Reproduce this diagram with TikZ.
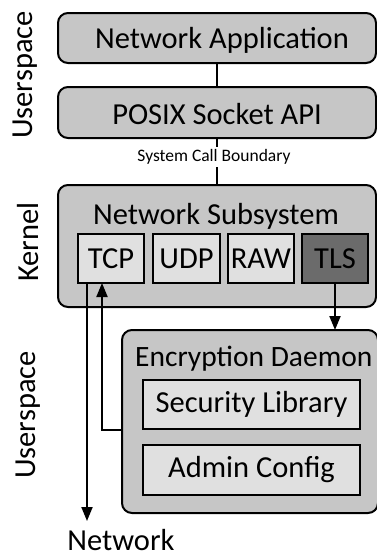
\documentclass[tikz,border=0pt]{standalone}
\usepackage{fontspec}
\setmainfont{Carlito}
\usetikzlibrary{arrows.meta}
\definecolor{layerfill}{HTML}{C6C6C6}
\definecolor{partfill}{HTML}{E0E0E0}
\definecolor{securefill}{HTML}{6B6B6B}
\begin{document}
\begin{tikzpicture}[x=1pt,y=-1pt,
  every node/.style={font=\fontsize{30.5}{34}\selectfont, inner sep=0pt},
  layer/.style={draw, line width=2pt, rounded corners=10pt, fill=layerfill},
  part/.style={draw, line width=2pt, fill=partfill},
  secure/.style={draw, line width=2pt, fill=securefill},
  link/.style={line width=2pt},
  flow/.style={line width=2pt, -{Triangle[length=14pt,width=11pt]}},
  side/.style={rotate=90}
]
\useasboundingbox (0,0) rectangle (376,558);

% userspace application stack
\draw[layer] (58,13) rectangle (376,63);
\node (app) at (222,40) {Network Application};
\draw[layer] (58,87) rectangle (376,138);
\node (posix) at (217,114) {POSIX Socket API};

% kernel network subsystem
\draw[layer] (58,185) rectangle (376,307);
\node (netsub) at (216,216) {Network Subsystem};
\node[part, minimum width=66pt, minimum height=49pt] (tcp) at (111,258.5) {TCP};
\node[part, minimum width=67pt, minimum height=49pt] (udp) at (186.5,258.5) {UDP};
\node[part, minimum width=66pt, minimum height=49pt] (raw) at (261,258.5) {RAW};
\node[secure, minimum width=66pt, minimum height=49pt] (tls) at (335,258.5) {TLS};

% userspace encryption daemon
\draw[layer] (122,330) rectangle (378,513);
\node[anchor=west, font=\fontsize{29.5}{33}\selectfont] (daemon) at (135,359) {Encryption Daemon};
\node[part, minimum width=217pt, minimum height=49pt] (seclib) at (251.5,404.5) {Security Library};
\node[part, minimum width=217pt, minimum height=50pt] (admin) at (251.5,470) {Admin Config};

% layer labels
\node[side] (lbluser) at (25,75) {Userspace};
\node[side] (lblkernel) at (28,242) {Kernel};
\node[side] (lbluser2) at (28,415) {Userspace};

% connectors
\coordinate (appbot) at (217,63);
\coordinate (posixtop) at (217,87);
\coordinate (posixbot) at (217,138);
\coordinate (nettop) at (217,185);
\draw[link] (appbot) -- (posixtop);
\draw[link] (posixbot) -- (nettop);
\node[fill=white, inner xsep=1pt, inner ysep=3pt, font=\fontsize{17.5}{19}\selectfont] (syscall) at (214,157) {System Call Boundary};

\node (net) at (121,540) {Network};
\coordinate (tcpout) at (87,283);
\coordinate (netin) at (87,521);
\draw[flow] (tcpout) -- (netin);

\coordinate (tcpin) at (102,283);
\coordinate (daemonout) at (122,430);
\draw[flow] (daemonout) -| (tcpin);

\coordinate (tlsout) at (335,283);
\coordinate (daemonin) at (335,330);
\draw[flow] (tlsout) -- (daemonin);
\end{tikzpicture}
\end{document}
